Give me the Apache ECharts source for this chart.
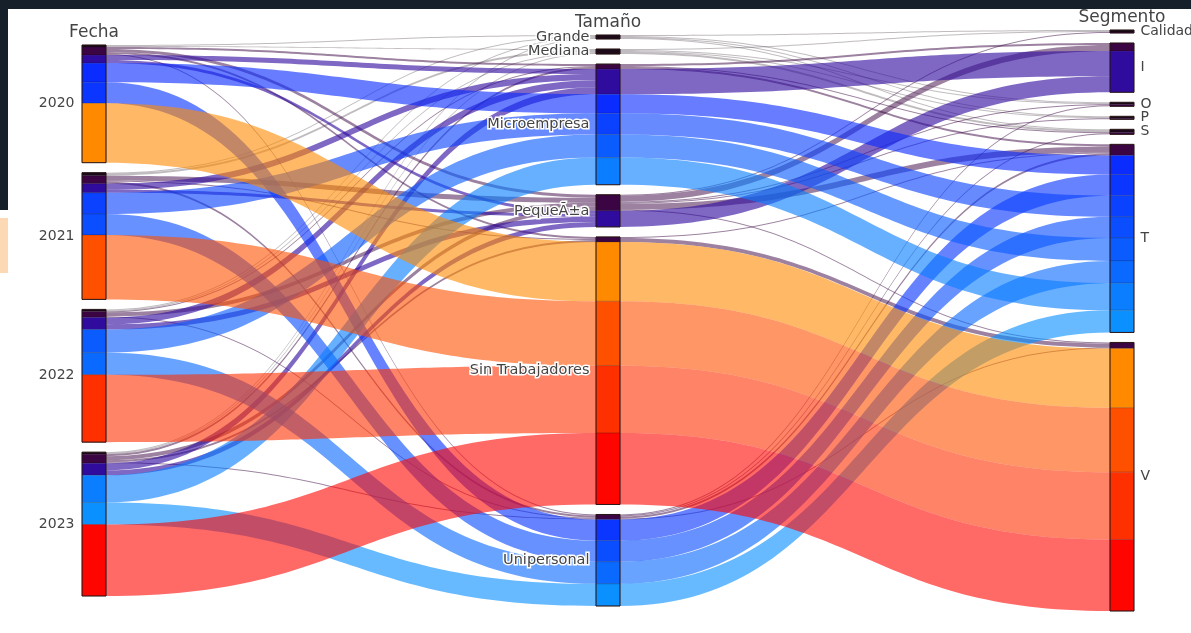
<!DOCTYPE html>
<html><head><meta charset="utf-8">
<script src="https://cdn.jsdelivr.net/npm/echarts@6/dist/echarts.min.js"></script>
<style>html,body{margin:0;padding:0;background:#fff;overflow:hidden}#c{width:1191px;height:633px}</style>
</head><body><div id="c"></div>
<script>
// ---- categories of each dimension ----
const fechaCats = ['2020', '2021', '2022', '2023'];
const tamanoCats = ['Grande', 'Mediana', 'Microempresa', 'PequeÃ±a', 'Sin Trabajadores', 'Unipersonal'];
const segmentoCats = ['Calidad', 'I', 'O', 'P', 'S', 'T', 'V'];
const dimTitles = ['Fecha', 'Tamaño', 'Segmento'];

// ---- path colour groups (ordered as stacked inside each bar) ----
const colorKeys = ['k', 'd', 'i', 'm0', 'u0', 'm1', 'u1', 'm2', 'u2', 'm3', 'u3', 'o0', 'o1', 'o2', 'o3'];
const colorHex = ['#1c0a1a', '#3a0542', '#300c9e', '#0a2cff', '#0a36ff', '#0a42ff', '#0a4eff', '#0a5cff',
                  '#0a6aff', '#0a7eff', '#0a90ff', '#ff8a00', '#ff5000', '#ff3000', '#ff0500'];
const linkOpacity = [0.28, 0.5, 0.62, 0.62, 0.62, 0.62, 0.62, 0.62, 0.62, 0.62, 0.62, 0.6, 0.6, 0.6, 0.6];

// ---- paths: [Fecha, Tamaño, Segmento, colour, value] ----
const darkPaths = [
  ['2020', 'Grande', 'O', 'k', 1],
  ['2021', 'Grande', 'Calidad', 'k', 1],
  ['2022', 'Grande', 'P', 'k', 1],
  ['2023', 'Grande', 'S', 'k', 1],
  ['2020', 'Mediana', 'Calidad', 'k', 1],
  ['2021', 'Mediana', 'O', 'k', 1],
  ['2022', 'Mediana', 'S', 'k', 1],
  ['2023', 'Mediana', 'P', 'k', 1],
  ['2021', 'Mediana', 'S', 'k', 1],
  ['2020', 'Microempresa', 'I', 'd', 2],
  ['2023', 'Microempresa', 'T', 'd', 2],
  ['2022', 'Microempresa', 'S', 'd', 1],
  ['2020', 'PequeÃ±a', 'I', 'd', 1],
  ['2022', 'PequeÃ±a', 'I', 'd', 2],
  ['2021', 'PequeÃ±a', 'T', 'd', 4],
  ['2022', 'PequeÃ±a', 'V', 'd', 1],
  ['2023', 'PequeÃ±a', 'I', 'd', 3],
  ['2020', 'PequeÃ±a', 'T', 'd', 2],
  ['2021', 'PequeÃ±a', 'O', 'd', 1],
  ['2023', 'PequeÃ±a', 'Calidad', 'd', 1],
  ['2022', 'PequeÃ±a', 'P', 'd', 1],
  ['2020', 'Sin Trabajadores', 'V', 'd', 2],
  ['2021', 'Sin Trabajadores', 'T', 'd', 1],
  ['2023', 'Sin Trabajadores', 'V', 'd', 2],
  ['2021', 'Unipersonal', 'T', 'd', 2],
  ['2022', 'Unipersonal', 'O', 'd', 1],
  ['2023', 'Unipersonal', 'V', 'd', 1],
  ['2020', 'Unipersonal', 'S', 'd', 1]
];
const indigoPaths = [
  ['2020', 'Microempresa', 'I', 'i', 5],
  ['2020', 'PequeÃ±a', 'I', 'i', 3],
  ['2021', 'Microempresa', 'I', 'i', 6],
  ['2021', 'PequeÃ±a', 'I', 'i', 3],
  ['2022', 'Microempresa', 'I', 'i', 7],
  ['2022', 'PequeÃ±a', 'I', 'i', 5],
  ['2023', 'Microempresa', 'I', 'i', 7],
  ['2023', 'PequeÃ±a', 'I', 'i', 5]
];
const bluePaths = [
  ['2020', 'Microempresa', 'T', 'm0', 19],
  ['2020', 'Unipersonal', 'T', 'u0', 21],
  ['2021', 'Microempresa', 'T', 'm1', 21],
  ['2021', 'Unipersonal', 'T', 'u1', 21],
  ['2022', 'Microempresa', 'T', 'm2', 23],
  ['2022', 'Unipersonal', 'T', 'u2', 22],
  ['2023', 'Microempresa', 'T', 'm3', 27],
  ['2023', 'Unipersonal', 'T', 'u3', 22]
];
const orangePaths = [
  ['2020', 'Sin Trabajadores', 'V', 'o0', 59],
  ['2021', 'Sin Trabajadores', 'V', 'o1', 64],
  ['2022', 'Sin Trabajadores', 'V', 'o2', 67],
  ['2023', 'Sin Trabajadores', 'V', 'o3', 71]
];

// ---- layout constants ----
const GAP = 10, TOP = 30, H = 581, LEFT = 82, W = 1052, NODE_W = 24;
const FONT = 'DejaVu Sans';

const allPaths = [].concat(darkPaths, indigoPaths, bluePaths, orangePaths);
const dims = [fechaCats, tamanoCats, segmentoCats];
const V = allPaths.reduce((s, p) => s + p[4], 0);
const maxCats = Math.max.apply(null, dims.map(c => c.length));
const ky = (H - (maxCats - 1) * GAP) / V;
const gapVal = GAP / ky;

function segVal(d, cat, ck) {
  return allPaths.filter(p => p[d] === cat && p[3] === ck).reduce((s, p) => s + p[4], 0);
}
const segNodes = [], catNodes = [];
let sp = 0;
function spacer(d, v) {
  const n = {name: '_sp' + (sp++), depth: d, value: v,
    itemStyle: {color: 'rgba(0,0,0,0)', borderWidth: 0}, label: {show: false}};
  segNodes.push(n);
  catNodes.push(Object.assign({}, n, {name: n.name + 'c'}));
}
const labelCfg = [
  {position: 'left', distance: 7, fontSize: 14},
  {position: 'left', distance: 6, fontSize: 14.5, textBorderColor: '#fff', textBorderWidth: 3},
  {position: 'right', distance: 6, fontSize: 14}
];
const colTop = [];
dims.forEach((cats, d) => {
  const topPad = (maxCats - cats.length) * gapVal / 2;
  colTop[d] = TOP + topPad * ky;
  if (topPad > 0) spacer(d, topPad);
  cats.forEach((cat, ci) => {
    if (ci > 0) spacer(d, gapVal);
    let tot = 0;
    colorKeys.forEach((ck, k) => {
      const v = segVal(d, cat, ck);
      if (v > 0) {
        tot += v;
        segNodes.push({name: d + '|' + cat + '|' + ck, depth: d, value: v,
          itemStyle: {color: colorHex[k]}});
      }
    });
    catNodes.push({name: 'c' + d + '|' + cat, depth: d, value: tot,
      label: Object.assign({show: true, formatter: cat, color: '#444', fontFamily: FONT}, labelCfg[d])});
  });
});

const linkMap = {};
allPaths.forEach(p => {
  const k = colorKeys.indexOf(p[3]);
  for (let d = 0; d < 2; d++) {
    const s = d + '|' + p[d] + '|' + p[3];
    const t = (d + 1) + '|' + p[d + 1] + '|' + p[3];
    const key = s + '>' + t;
    if (!linkMap[key]) linkMap[key] = {source: s, target: t, value: 0,
      lineStyle: {color: colorHex[k], opacity: linkOpacity[k]}};
    linkMap[key].value += p[4];
  }
});
const segLinks = Object.keys(linkMap).map(k => linkMap[k]);

const kx = (W - NODE_W) / 2;
const titles = dimTitles.map((t, d) => ({
  type: 'text', x: LEFT + d * kx + NODE_W / 2, y: colTop[d] - 12, z: 100,
  style: {text: t, align: 'center', verticalAlign: 'middle', fontSize: 17, fontFamily: FONT, fill: '#444'}
}));

const chart = echarts.init(document.getElementById('c'), null, {renderer: 'canvas'});
chart.setOption({
  backgroundColor: '#fff',
  animation: false,
  graphic: [
    {type: 'rect', shape: {x: 0, y: 0, width: 1191, height: 9}, style: {fill: '#15202b'}, z: 0},
    {type: 'rect', shape: {x: 0, y: 0, width: 8, height: 210}, style: {fill: '#15202b'}, z: 0},
    {type: 'rect', shape: {x: 0, y: 218, width: 8, height: 55}, style: {fill: '#fdd8b4'}, z: 0}
  ].concat(titles),
  series: [
    {
      type: 'sankey', left: LEFT, top: TOP, width: W, height: H,
      nodeWidth: NODE_W, nodeGap: 0, layoutIterations: 0, nodeAlign: 'left',
      draggable: false, silent: true,
      label: {show: false},
      itemStyle: {borderWidth: 0.5, borderColor: 'rgba(0,0,0,0.35)'},
      lineStyle: {opacity: 0.6, curveness: 0.5},
      emphasis: {disabled: true},
      data: segNodes, links: segLinks
    },
    {
      type: 'sankey', left: LEFT, top: TOP, width: W, height: H,
      nodeWidth: NODE_W, nodeGap: 0, layoutIterations: 0, nodeAlign: 'left',
      draggable: false, silent: true,
      itemStyle: {color: 'rgba(0,0,0,0)', borderWidth: 1, borderColor: '#2a1616'},
      emphasis: {disabled: true},
      data: catNodes, links: []
    }
  ]
});
</script></body></html>
